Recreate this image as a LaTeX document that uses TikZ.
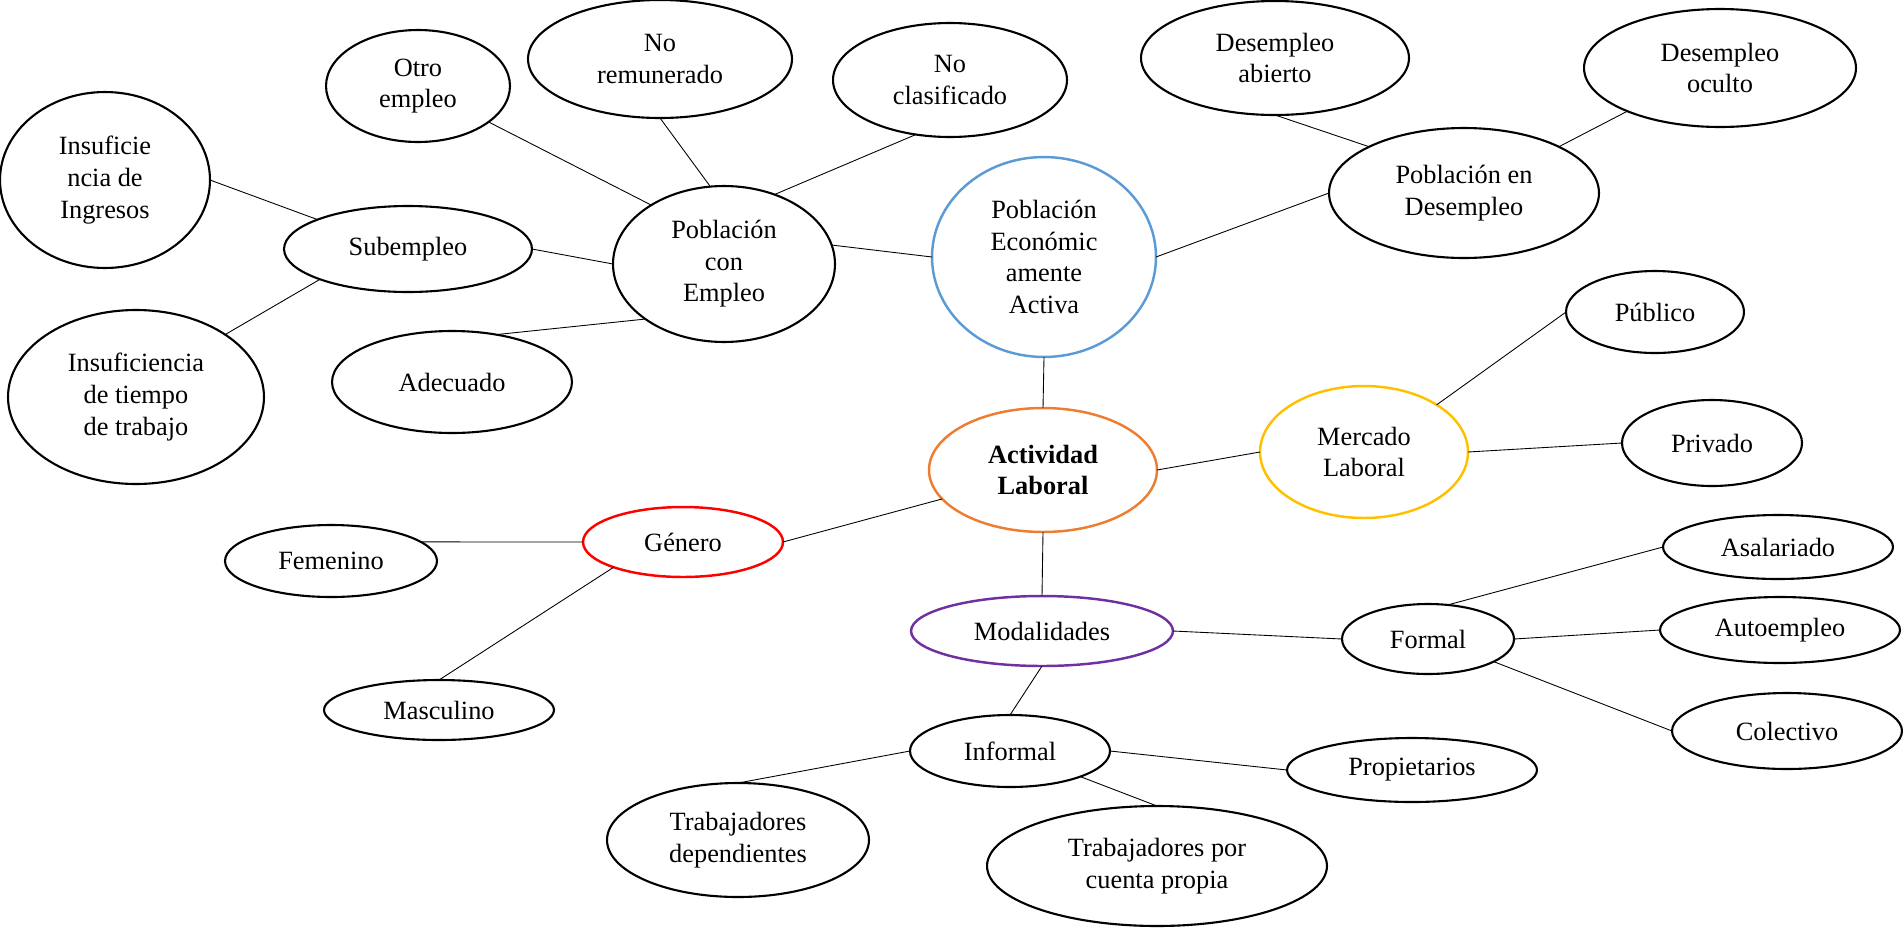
\documentclass[tikz,border=0pt]{standalone}
\usepackage{fontspec}
\setmainfont{Liberation Serif}
\usepackage{xcolor}
\definecolor{peablue}{HTML}{5B9BD5}
\definecolor{actorange}{HTML}{ED7D31}
\definecolor{mercyellow}{HTML}{FFC000}
\definecolor{genred}{HTML}{FF0000}
\definecolor{modpurple}{HTML}{7030A0}
\usetikzlibrary{shapes.geometric}

\begin{document}
\begin{tikzpicture}[
    x=0.02cm, y=-0.02cm,
    bubble/.style={ellipse, draw, line width=1.2pt, inner sep=0pt, outer sep=0pt, align=center,
        font=\fontsize{15}{18}\selectfont},
    hub/.style={bubble, line width=1.4pt},
    link/.style={line width=0.5pt},
]
\useasboundingbox (0,0) rectangle (1903,927);

% centre
\node[hub, draw=peablue, minimum width=4.48cm, minimum height=4.0cm] (pea) at (1044,257) {Población\\Económic\\amente\\Activa};
\node[hub, draw=actorange, minimum width=4.56cm, minimum height=2.48cm] (act) at (1043,470) {\textbf{Actividad}\\\textbf{Laboral}};
\node[hub, draw=mercyellow, minimum width=4.16cm, minimum height=2.64cm] (merc) at (1364,452) {Mercado\\Laboral};
\node[hub, draw=genred, minimum width=4.0cm, minimum height=1.4cm] (gen) at (683,542) {Género};
\node[hub, draw=modpurple, minimum width=5.24cm, minimum height=1.4cm] (modal) at (1042,631) {Modalidades};

% empleo
\node[bubble, minimum width=4.44cm, minimum height=3.12cm] (empleo) at (724,264) {Población\\con\\Empleo};
\node[bubble, minimum width=3.68cm, minimum height=2.24cm] (otro) at (418,86) {Otro\\empleo};
\node[bubble, minimum width=5.28cm, minimum height=2.36cm] (nrem) at (660,59) {No\\remunerado};
\node[bubble, minimum width=4.68cm, minimum height=2.28cm] (nocla) at (950,80) {No\\clasificado};
\node[bubble, minimum width=4.96cm, minimum height=1.72cm] (sub) at (408,249) {Subempleo};
\node[bubble, minimum width=4.8cm, minimum height=2.04cm] (adec) at (452,382) {Adecuado};
\node[bubble, minimum width=4.2cm, minimum height=3.52cm] (ingr) at (105,180) {Insuficie\\ncia de\\Ingresos};
\node[bubble, minimum width=5.12cm, minimum height=3.48cm] (tiempo) at (136,397) {Insuficiencia\\de tiempo\\de trabajo};

% desempleo
\node[bubble, minimum width=5.4cm, minimum height=2.6cm] (ped) at (1464,193) {Población en\\Desempleo};
\node[bubble, minimum width=5.36cm, minimum height=2.28cm] (abierto) at (1275,58) {Desempleo\\abierto};
\node[bubble, minimum width=5.44cm, minimum height=2.36cm] (oculto) at (1720,68) {Desempleo\\oculto};

% mercado
\node[bubble, minimum width=3.56cm, minimum height=1.64cm] (pub) at (1655,312) {Público};
\node[bubble, minimum width=3.6cm, minimum height=1.72cm] (priv) at (1712,443) {Privado};

% genero
\node[bubble, minimum width=4.24cm, minimum height=1.44cm] (fem) at (331,561) {Femenino};
\node[bubble, minimum width=4.6cm, minimum height=1.2cm] (masc) at (439,710) {Masculino};

% modalidades
\node[bubble, minimum width=3.44cm, minimum height=1.4cm] (formal) at (1428,639) {Formal};
\node[bubble, minimum width=4.6cm, minimum height=1.28cm] (asal) at (1778,547) {Asalariado};
\node[bubble, minimum width=4.8cm, minimum height=1.32cm] (auto) at (1780,630) {Autoempleo};
\node[bubble, minimum width=4.6cm, minimum height=1.52cm] (colec) at (1787,731) {Colectivo};
\node[bubble, minimum width=4.0cm, minimum height=1.44cm] (informal) at (1010,751) {Informal};
\node[bubble, minimum width=5.0cm, minimum height=1.28cm] (prop) at (1412,770) {Propietarios};
\node[bubble, minimum width=5.24cm, minimum height=2.28cm] (dep) at (738,840) {Trabajadores\\dependientes};
\node[bubble, minimum width=6.8cm, minimum height=2.4cm] (cuenta) at (1157,866) {Trabajadores por\\cuenta propia};

% connectors
\draw[link] (pea.south) -- (act.north);
\draw[link] (empleo.10) -- (pea.west);
\draw[link] (pea.east) -- (ped.west);
\draw[link] (ped.154) -- (abierto.south);
\draw[link] (ped.26) -- (oculto.205);
\draw[link] (otro.-27) -- (empleo.141);
\draw[link] (nrem.south) -- (empleo.100);
\draw[link] (empleo.54) -- (nocla.238);
\draw[link] (sub.east) -- (empleo.west);
\draw[link] (adec.47) -- (empleo.215);
\draw[link] (ingr.east) -- (sub.162);
\draw[link] (tiempo.35) -- (sub.199);
\draw[link] (act.east) -- (merc.west);
\draw[link] (merc.33) -- (pub.west);
\draw[link] (merc.east) -- (priv.west);
\draw[link] (act.196) -- (gen.east);
\draw[link] (gen.west) -- (fem.12);
\draw[link] (gen.200) -- (masc.north);
\draw[link] (act.south) -- (modal.north);
\draw[link] (modal.east) -- (formal.west);
\draw[link] (formal.60) -- (asal.west);
\draw[link] (formal.east) -- (auto.west);
\draw[link] (formal.-19) -- (colec.west);
\draw[link] (modal.south) -- (informal.north);
\draw[link] (informal.east) -- (prop.west);
\draw[link] (informal.west) -- (dep.north);
\draw[link] (informal.-20) -- (cuenta.north);
\end{tikzpicture}
\end{document}
